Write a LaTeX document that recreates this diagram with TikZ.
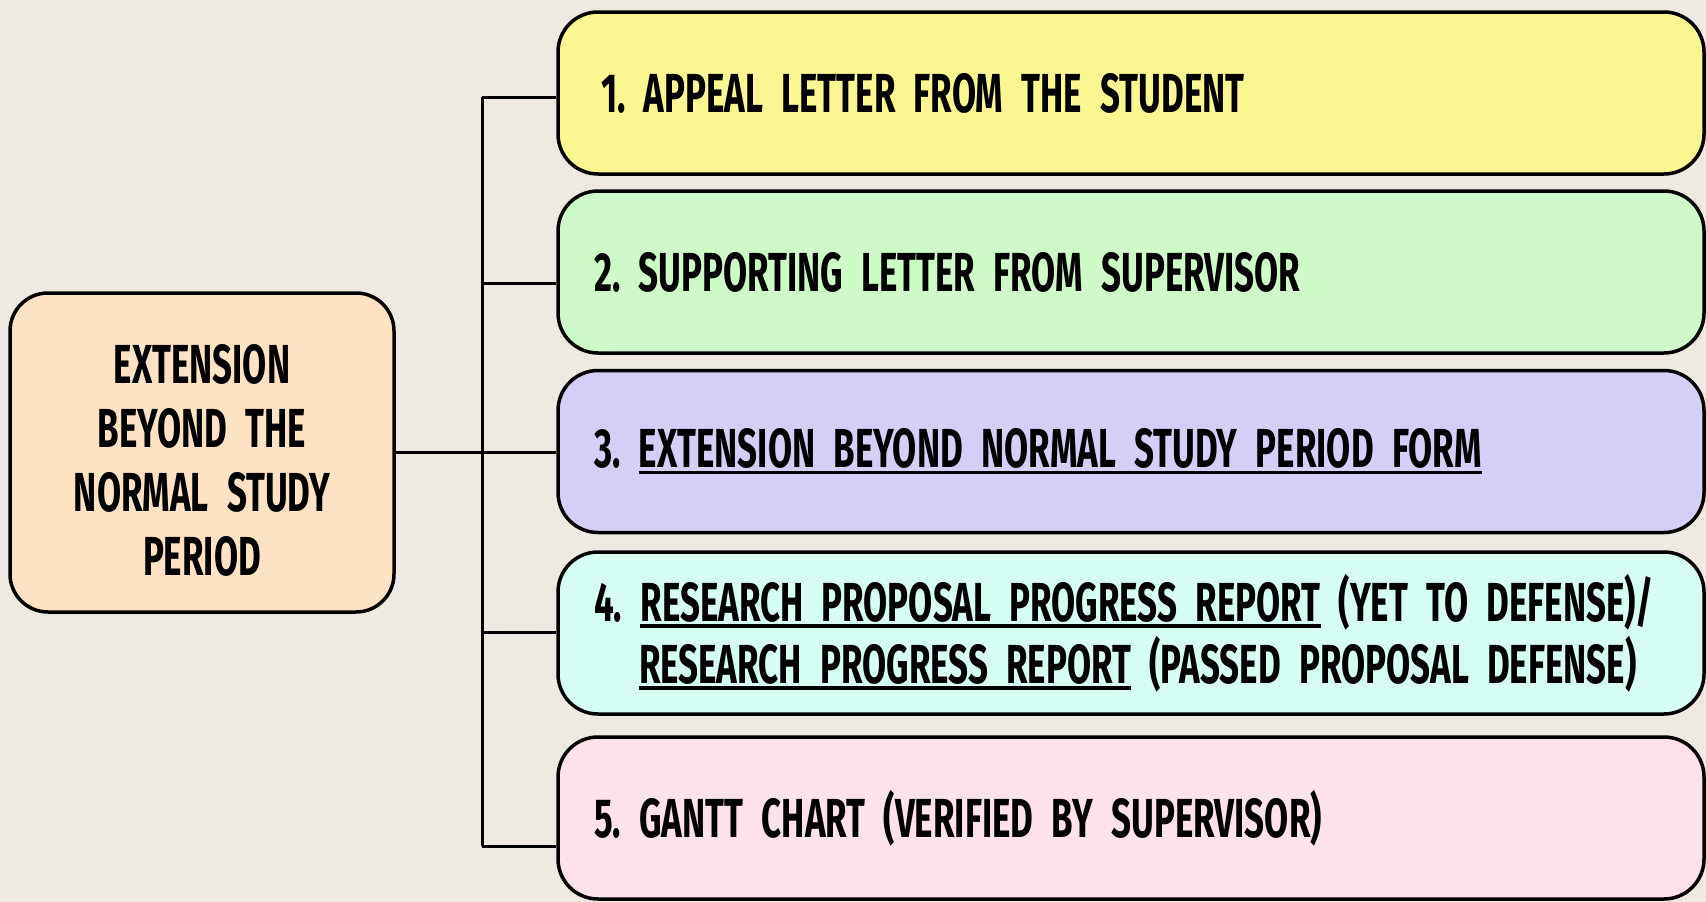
\documentclass[tikz,border=0pt]{standalone}
\usepackage{fontspec}
\setmainfont{Fira Sans}[FakeStretch=0.635]
\definecolor{bgc}{HTML}{EEEAE2}
\definecolor{peach}{HTML}{FDE3C4}
\definecolor{cyellow}{HTML}{FAF793}
\definecolor{cgreen}{HTML}{CDFAC7}
\definecolor{clav}{HTML}{D5CFF6}
\definecolor{cmint}{HTML}{D6FDF4}
\definecolor{cpink}{HTML}{FDE2EA}
\newcommand\myul[1]{\setbox0\hbox{#1}\rlap{\rule[-6.5pt]{\wd0}{3.5pt}}\box0\relax}
\newcommand\bigtext[1]{\bfseries\fontsize{55}{#1}\selectfont\frenchspacing\hyphenpenalty=10000\relax}
\tikzset{
  itembox/.style={draw=black, line width=3.5pt, rounded corners=40pt,
    minimum width=1146pt, minimum height=162pt, text width=1074pt,
    inner xsep=36pt, inner ysep=0pt, align=left,
    font=\bigtext{62}},
  mainbox/.style={draw=black, line width=3.5pt, rounded corners=38pt,
    fill=peach, minimum width=384pt, minimum height=319pt, text width=350pt,
    inner xsep=17pt, align=center, text height=54pt, text depth=192pt,
    font=\bigtext{64}},
  link/.style={draw=black, line width=3pt}
}
\begin{document}
\begin{tikzpicture}[x=1pt,y=-1pt]
\fill[bgc] (0,0) rectangle (1706,902);
\useasboundingbox (0,0) rectangle (1706,902);

\node[mainbox] (m) at (202,452.5) {EXTENSION\\BEYOND THE\\NORMAL STUDY\\PERIOD};

\node[itembox, fill=cyellow] (b1) at (1131,93) {\hspace*{7pt}1. APPEAL LETTER FROM THE STUDENT};
\node[itembox, fill=cgreen] (b2) at (1131,272) {2. SUPPORTING LETTER FROM SUPERVISOR};
\node[itembox, fill=clav] (b3) at (1131,451.5) {3. \myul{EXTENSION BEYOND NORMAL STUDY PERIOD FORM}};
\node[itembox, fill=cmint] (b4) at (1131,633) {\mbox{4. \myul{RESEARCH PROPOSAL PROGRESS REPORT} (YET TO DEFENSE)/}\\\mbox{\hspace*{45pt}\myul{RESEARCH PROGRESS REPORT} (PASSED PROPOSAL DEFENSE)}};
\node[itembox, fill=cpink] (b5) at (1131,818) {5. GANTT CHART (VERIFIED BY SUPERVISOR)};

\coordinate (t1) at (482,97);
\coordinate (t2) at (482,283);
\coordinate (t4) at (482,632);
\coordinate (t5) at (482,846);

\draw[link] (t1) -- (t5);
\draw[link] (m.east) -- (m.east -| b3.west);
\draw[link] (t1) -- (t1 -| b1.west);
\draw[link] (t2) -- (t2 -| b2.west);
\draw[link] (t4) -- (t4 -| b4.west);
\draw[link] (t5) -- (t5 -| b5.west);
\end{tikzpicture}
\end{document}
